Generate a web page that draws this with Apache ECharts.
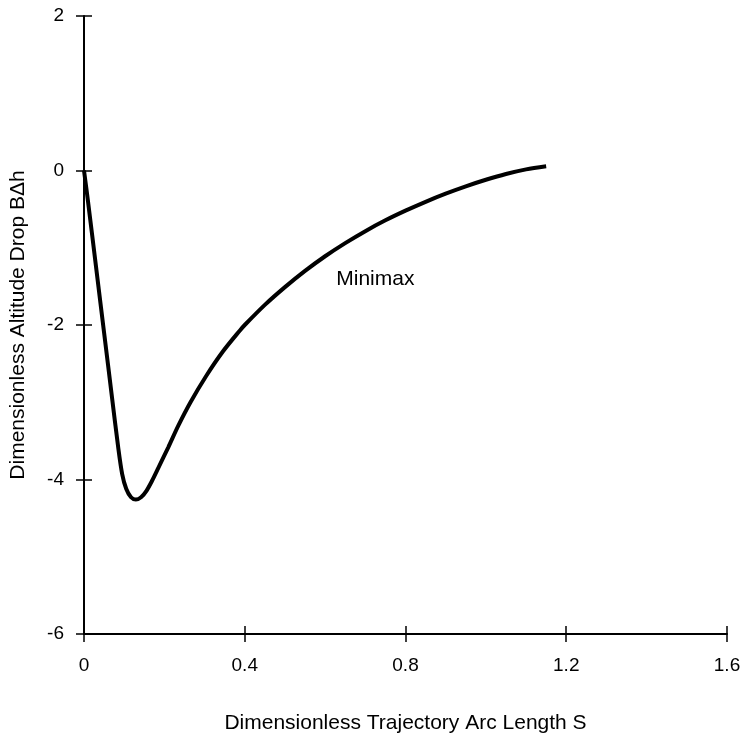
<!DOCTYPE html>
<html>
<head>
<meta charset="utf-8">
<script src="https://cdn.jsdelivr.net/npm/echarts@6/dist/echarts.min.js"></script>
<style>
  html, body { margin: 0; padding: 0; background: #fff; }
  #chart { width: 744px; height: 742px; }
</style>
</head>
<body>
<div id="chart"></div>
<script>
// Dimensionless trajectory arc length S (x) and altitude drop B·Δh (y)
const arcLength = [
  0, 0.010, 0.030, 0.050, 0.070, 0.085, 0.095, 0.105, 0.117, 0.129,
  0.142, 0.155, 0.170, 0.185, 0.210, 0.235, 0.265, 0.304, 0.346, 0.388,
  0.40, 0.45, 0.50, 0.55, 0.60, 0.65, 0.70, 0.75, 0.80, 0.85,
  0.90, 0.95, 1.00, 1.05, 1.10, 1.15
];
const altitudeDrop = [
  0, -0.40, -1.25, -2.10, -2.95, -3.58, -3.93, -4.12, -4.23, -4.26,
  -4.23, -4.15, -4.01, -3.85, -3.58, -3.30, -3.00, -2.66, -2.34, -2.07,
  -2.00, -1.74, -1.51, -1.30, -1.11, -0.94, -0.785, -0.645, -0.52, -0.405,
  -0.30, -0.205, -0.12, -0.045, 0.015, 0.055
];
const xTicks = { min: 0, max: 1.6, step: 0.4 };
const yTicks = { min: -6, max: 2, step: 2 };
const curveName = 'Minimax';
const curveLabelAt = [0.725, -1.41];

const points = arcLength.map((s, i) => [s, altitudeDrop[i]]);

const font = 'Liberation Sans, Arial, Helvetica, sans-serif';
const axisColor = '#000';

function valueAxis(range, extra) {
  return Object.assign({
    type: 'value',
    min: range.min,
    max: range.max,
    interval: range.step,
    splitLine: { show: false },
    axisLine: { show: true, onZero: false, lineStyle: { color: axisColor, width: 2 } },
    axisTick: { show: true, length: 8, lineStyle: { color: axisColor, width: 1.5 } }
  }, extra);
}

const chart = echarts.init(document.getElementById('chart'), null, { renderer: 'canvas' });

chart.setOption({
  backgroundColor: '#fff',
  animation: false,
  grid: { left: 80, right: 17, top: 16, bottom: 108, containLabel: false },
  xAxis: [
    valueAxis(xTicks, {
      name: 'Dimensionless Trajectory Arc Length S',
      nameLocation: 'middle',
      nameGap: 79,
      nameTextStyle: { color: '#000', fontSize: 21, fontFamily: font },
      axisLabel: { color: '#000', fontSize: 19, fontFamily: font, margin: 22 }
    }),
    // inner half of the crossing tick marks
    valueAxis(xTicks, {
      position: 'bottom',
      axisLine: { show: false, onZero: false },
      axisTick: { show: true, inside: true, length: 8, lineStyle: { color: axisColor, width: 1.5 } },
      axisLabel: { show: false }
    })
  ],
  yAxis: [
    valueAxis(yTicks, {
      name: 'Dimensionless Altitude Drop B\u0394h',
      nameLocation: 'middle',
      nameGap: 55,
      nameRotate: 90,
      nameTextStyle: { color: '#000', fontSize: 21, fontFamily: font },
      axisLabel: { color: '#000', fontSize: 19, fontFamily: font, margin: 20 }
    }),
    valueAxis(yTicks, {
      position: 'left',
      axisLine: { show: false, onZero: false },
      axisTick: { show: true, inside: true, length: 8, lineStyle: { color: axisColor, width: 1.5 } },
      axisLabel: { show: false }
    })
  ],
  series: [{
    type: 'line',
    name: curveName,
    data: points,
    xAxisIndex: 0,
    yAxisIndex: 0,
    showSymbol: false,
    smooth: 0.3,
    lineStyle: { color: '#000', width: 4 },
    markPoint: {
      symbol: 'circle',
      symbolSize: 0,
      silent: true,
      label: {
        show: true,
        position: 'inside',
        formatter: curveName,
        color: '#000',
        fontSize: 21,
        fontFamily: font
      },
      data: [{ coord: curveLabelAt }]
    }
  }]
});
</script>
</body>
</html>
